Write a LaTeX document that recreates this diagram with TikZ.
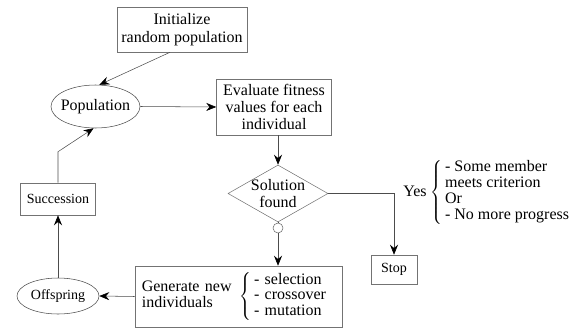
\documentclass[tikz,border=0pt]{standalone}
\usepackage{fontspec}
\setmainfont{Liberation Serif}
\usetikzlibrary{shapes.geometric,arrows.meta,calc}

\begin{document}
\begin{tikzpicture}[x=0.75pt,y=-0.75pt,
		big/.style={font=\rmfamily\fontsize{12}{12.5}\selectfont,align=center},
		small/.style={font=\rmfamily\fontsize{10.5}{12}\selectfont},
		box/.style={draw=black!55,inner sep=2pt},
		ellip/.style={ellipse,draw=black!70,inner xsep=-5pt,inner ysep=0pt},
		decision/.style={diamond,draw=black!55,inner sep=0pt,minimum width=75pt,minimum height=42.75pt},
		junction/.style={circle,draw=black!60,inner sep=0pt,minimum size=7.5pt},
		line/.style={draw=black!70,-{Stealth[length=7.5pt,width=6pt,inset=2.5pt,color=black]}}]
		\useasboundingbox (0,0) rectangle (577,332);
		%boxes and nodes
		\node[box,big,minimum width=97.5pt,minimum height=33.75pt,font=\rmfamily\fontsize{12}{14}\selectfont] (init) at (182,29.5) {Initialize\\random population};
		\node[ellip,big,minimum width=66.75pt,minimum height=32.25pt] (pop) at (95.5,106.5) {Population};
		\node[box,big,minimum width=86.25pt,minimum height=42pt] (eval) at (274,107) {Evaluate fitness\\values for each\\individual};
		\node[decision,label={[big]center:Solution\\found}] (sol) at (278,193.5) {};
		\node[junction] (junc) at (278,228) {};
		\node[box,minimum width=155.25pt,minimum height=45.75pt,text width=145pt,inner xsep=5pt,font=\rmfamily\fontsize{12}{11.5}\selectfont] (gen) at (238.5,296.5)
			{\begin{tabular}{@{}l@{}}Generate new\\individuals\end{tabular}\enspace$\left\{\,\begin{tabular}{@{}l@{}}- selection\\- crossover\\- mutation\end{tabular}\right.$};
		\node[ellip,small,minimum width=61.5pt,minimum height=27pt] (off) at (58,296) {Offspring};
		\node[box,small,minimum width=56.25pt,minimum height=24pt] (succ) at (58,199) {Succession};
		\node[box,small,minimum width=34.5pt,minimum height=21.75pt] (stop) at (394,269.5) {Stop};
		\node[font=\rmfamily\fontsize{12}{12}\selectfont,inner sep=0pt] (crit) at (487,192)
			{Yes $\left\{\,\begin{tabular}{@{}l@{}}- Some member\\meets criterion\\Or\\- No more progress\end{tabular}\right.$};
		%connectors
		\draw[line] ($(init.south)+(-12,0)$) -- (pop.80);
		\draw[line] (pop.east) -- (eval.west);
		\draw[line] (eval.south -| sol) -- (sol.north);
		\draw[draw=black!70] (sol.south) -- (junc.north);
		\draw[line] (junc.south) -- (junc |- gen.north);
		\draw[line] (sol.east) -| (stop.north);
		\draw[line] (gen.west) -- (off.east);
		\draw[line] (off.north) -- (succ.south);
		\draw[line] (succ.north) -- ++(0,-31) -- (pop.265);
\end{tikzpicture}
\end{document}
